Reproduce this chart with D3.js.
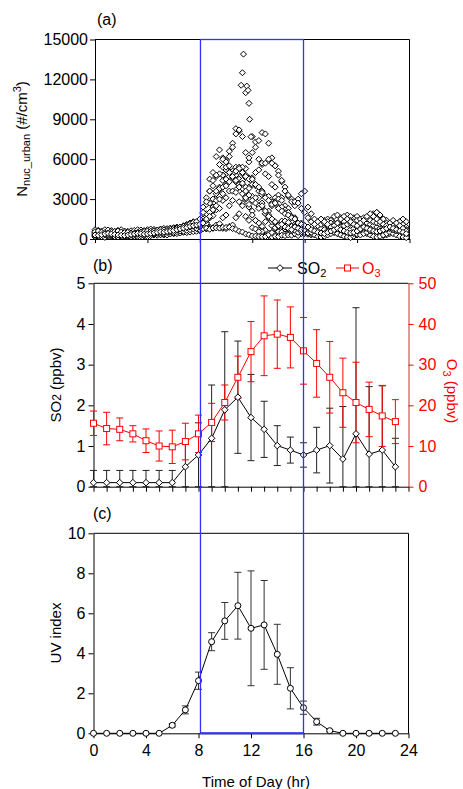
<!DOCTYPE html>
<html>
<head>
<meta charset="utf-8">
<script src="https://cdn.jsdelivr.net/npm/d3@7"></script>
<style>
  body { margin: 0; background: #fff; }
  text { font-family: 'Liberation Sans', Arial, sans-serif; }
</style>
</head>
<body>
<svg id="chart" width="463" height="789"></svg>
<script>
// ---------- data ----------
// hourly means and standard deviations
const hours = d3.range(24);
const so2 = [0.1,0.1,0.1,0.1,0.1,0.1,0.1,0.49,0.78,1.19,1.89,2.2,1.7,1.41,1.01,0.9,0.78,0.9,1.01,0.68,1.3,0.8,0.9,0.49];
const so2Sd = [0.3,0.3,0.3,0.3,0.3,0.3,0.3,0.55,0.79,1.31,1.92,1.38,1.06,0.69,0.49,0.32,0.3,0.56,0.92,1.29,3.1,1.66,1.58,0.7];
const o3 = [15.6,14.3,14.1,13.0,11.3,10.0,9.8,11.1,13.0,15.8,20.7,26.9,33.2,37.1,37.5,36.7,33.4,30.3,26.9,23.1,20.7,19.0,17.4,16.0];
const o3Sd = [3.0,4.0,2.8,2.0,2.9,3.7,4.1,4.5,4.6,4.7,4.3,5.2,7.4,9.8,8.4,7.5,8.2,8.3,8.8,8.5,9.9,6.7,7.5,5.4];
const uv = [0,0,0,0,0,0,0.4,1.17,2.63,4.58,5.62,6.38,5.25,5.42,3.95,2.25,1.28,0.58,0.13,0,0,0,0,0];
const uvSd = [0,0,0,0,0,0,0.08,0.2,0.43,0.45,0.92,1.67,2.87,2.22,1.5,1.03,0.33,0.17,0.05,0,0,0,0,0];

// nucleation-mode number concentration, 15-min values per day (#/cm3)
const nucDay1 = [450,500,380,420,550,480,400,360,420,380,300,350,400,320,280,350,420,380,450,500,420,480,550,600,650,580,700,750,800,900,1000,1100,
  1300,2400,3100,4500,5000,6200,6700,6100,5900,5100,5000,4300,4100,3400,3100,2400,2100,1400,1200,700,650,450,500,380,450,350,380,420,350,450,420,520,
  500,550,600,700,800,900,1000,900,800,700,650,700,800,900,1000,1100,1200,1100,1000,900,800,700,800,900,1000,900,800,700,600,500,450,400];
const nucDay2 = [300,350,420,380,300,250,320,280,250,300,350,280,220,260,300,330,280,350,400,380,420,500,450,520,600,550,620,700,680,750,820,850,
  900,1100,1000,1600,2100,3100,3700,4800,5200,6600,7200,8300,8100,7700,6500,5800,4600,4100,3100,2700,1900,1600,1000,850,550,520,420,430,350,380,350,420,
  450,500,600,800,1000,1200,1400,1500,1400,1200,1000,900,1000,1200,1400,1600,1700,1500,1300,1100,900,800,900,1100,1300,1200,1000,900,800,700,600,550];
const nucDay3 = [600,650,550,500,580,620,500,450,520,480,450,500,550,600,520,480,500,550,620,650,600,680,720,700,750,800,780,850,900,950,1000,980,
  1000,1200,1250,1900,2400,3400,3900,4800,5200,6200,6900,7900,8200,12500,11000,10200,7700,6900,6000,5600,4900,4700,4100,3900,3300,3100,2500,2300,1700,1500,1000,950,
  800,700,600,500,450,400,500,600,800,1000,1200,1400,1600,1800,1700,1500,1300,1100,1300,1500,1700,1900,2000,1800,1500,1200,1000,800,1000,1200,1000,800];
const nucDay4 = [200,250,300,280,220,180,250,300,260,200,180,220,250,280,300,250,220,280,300,350,320,300,380,420,400,450,500,550,520,600,650,680,
  700,800,750,900,850,1050,1150,1600,1800,2500,2900,3700,4100,4900,5300,6100,6500,7300,7400,8000,7900,7200,6100,5500,5100,4300,3900,3200,3000,2500,3000,2300,
  2000,1600,1300,1100,900,800,700,600,500,600,800,1000,1300,1500,1400,1200,1000,800,700,600,700,900,1100,1300,1500,1400,1200,1000,1200,1300,1100,900];
const nucDay5 = [500,450,400,480,520,450,380,420,480,550,500,450,420,480,520,600,550,500,580,620,700,650,720,800,750,850,900,1000,1100,1200,1300,1100,
  1100,1900,2600,3600,4000,4700,4900,5400,5400,5500,5000,4800,4100,3800,3000,2600,1800,1400,700,550,250,250,150,200,180,280,250,300,280,380,250,420,
  400,350,300,350,400,500,600,700,600,500,400,300,250,300,400,500,600,700,800,700,600,500,400,300,250,300,400,500,600,700,500,300];
const nucDay6 = [350,300,280,320,380,420,350,300,280,320,380,400,350,300,380,420,450,400,380,450,500,480,520,550,600,580,620,650,700,680,750,780,
  800,900,780,800,800,850,820,800,780,950,1050,1600,1900,2700,3100,3900,4300,5000,5200,5700,5700,6000,5700,5500,4800,4400,3600,3300,2800,2800,2700,3400,
  3600,2400,1900,1500,1200,1000,900,1100,1400,1700,1800,1600,1300,1100,900,700,800,1000,1200,1400,1600,1800,2000,1800,1500,1200,1000,900,1100,1300,1500,1300];
const nucDay7 = [150,200,180,120,200,250,180,150,200,180,220,150,180,200,250,220,180,250,300,280,320,350,300,380,420,400,450,500,480,520,550,580,
  600,950,1150,1600,1750,2200,2300,2900,3100,3600,3600,3500,2800,2500,1700,1400,850,750,550,950,1300,2100,2500,3100,3000,2900,2200,1900,1300,1100,750,750,
  600,500,400,300,200,150,200,300,400,500,400,300,200,150,100,200,300,400,500,400,300,200,150,200,300,400,500,400,300,200,150,100];
const nucDay8 = [700,650,600,700,680,620,580,650,700,600,580,620,650,700,680,640,700,750,720,680,750,800,780,820,850,900,880,950,1000,1050,900,800,
  700,780,820,730,820,830,820,880,870,880,780,720,580,520,380,320,230,220,180,170,180,320,480,850,1050,1350,1350,1250,950,950,750,720,
  650,600,550,600,700,800,900,1000,1100,1000,900,800,700,600,500,400,350,300,400,500,600,700,800,900,1000,900,800,700,600,700,800,700];
const nucDay9 = [250,300,350,300,280,320,350,300,330,360,300,280,320,350,380,330,350,400,380,420,450,420,480,520,500,550,600,580,650,700,750,800,
  900,1500,1900,2700,3000,3600,3800,4400,4500,5000,5100,5100,4500,4400,3900,3800,3200,3100,2500,2400,1900,1800,1300,1250,950,950,750,750,600,650,500,550,
  500,450,500,600,700,800,700,600,700,800,900,1000,900,800,700,800,900,1000,1100,1200,1100,1000,900,800,700,800,900,1000,900,800,700,600];
const nucDay10 = [400,450,500,450,400,350,400,450,500,450,400,380,420,460,500,450,480,520,560,520,580,620,600,650,700,680,750,800,850,900,950,1000,
  1000,1300,1400,2000,2200,2900,3200,3900,4100,4700,4900,5400,5400,5400,4800,4600,4100,4000,3600,3600,3200,3200,2800,2800,2400,2400,2000,2000,1600,1600,1200,1200,
  1000,900,800,900,1000,1100,1200,1300,1200,1100,1000,900,1000,1100,1200,1300,1400,1500,1600,1500,1400,1300,1200,1100,1000,900,800,700,800,900,800,700];
const nucDay11 = [550,600,520,480,450,500,560,600,520,480,500,450,420,480,520,560,600,580,620,650,700,680,650,720,780,820,900,950,1000,1150,1250,1300,
  1500,2000,2800,3600,4400,4800,5600,6000,5800,5000,4600,4400,3900,4200,3600,3300,2900,2700,2300,2500,2100,1700,1500,1300,1000,1100,900,800,700,900,800,700,
  700,800,900,1100,1300,1500,1300,1100,900,1000,1200,1500,1700,1500,1300,1100,1000,1200,1400,1700,1900,1700,1500,1300,1100,1000,1200,1400,1200,1000,800,600];
const nucDay12 = [300,280,320,380,420,380,340,300,280,260,300,340,380,420,400,360,380,420,460,500,540,520,560,600,640,700,760,820,880,950,1000,1050,
  1100,1200,1500,1700,2200,2500,3000,3400,4000,4300,4700,5100,5300,5000,4700,4500,4500,4100,3900,3500,3100,2900,2600,2700,2300,2100,1900,1800,1600,1500,1200,1100,
  1000,900,700,600,500,450,400,500,600,700,800,700,600,500,450,500,600,750,900,800,700,600,550,600,700,800,900,800,700,600,500,400];
// short burst of very high concentrations around noon: [hour, #/cm3]
const nucPeak = [[11.33,13900],[11.15,11560],[11.58,11500],[11.68,11180],[11.8,9000],[11.9,7690]];

const nucDays = [nucDay1,nucDay2,nucDay3,nucDay4,nucDay5,nucDay6,nucDay7,nucDay8,nucDay9,nucDay10,nucDay11,nucDay12];
const stepHours = 0.25;

// photochemically active window highlighted across panels (hours)
const windowHours = [8.15, 16];

const hourTicks = [0,4,8,12,16,20,24];
const nucTicks = [0,3000,6000,9000,12000,15000];
const so2Ticks = [0,1,2,3,4,5];
const o3Ticks = [0,10,20,30,40,50];
const uvTicks = [0,2,4,6,8,10];

// ---------- layout ----------
const svg = d3.select('#chart');
const FS = 15;      // titles
const TFS = 16;     // tick labels
const red = '#ff0000';
const blue = '#3030ff';
const fmt = d3.format('d');

const xA = d3.scaleLinear().domain([0,24]).range([95,409.5]);
const yA = d3.scaleLinear().domain([0,15000]).range([239,39.5]);
const x = d3.scaleLinear().domain([0,24]).range([93.5,408.5]);
const yB = d3.scaleLinear().domain([0,5]).range([486.7,283.3]);
const yO = d3.scaleLinear().domain([0,50]).range([486.7,283.3]);
const yC = d3.scaleLinear().domain([0,10]).range([733.3,533.3]);

function styleAxis(g, color) {
  g.selectAll('path.domain').attr('stroke', color || '#000').attr('stroke-width', 1);
  g.selectAll('.tick line').attr('stroke', color || '#000').attr('stroke-width', 1);
  g.selectAll('.tick text').attr('font-size', TFS).attr('fill', color || '#000')
    .attr('font-family', "'Liberation Sans', Arial, sans-serif");
}

const diamond = r => `M0,${-r}L${r},0L0,${r}L${-r},0Z`;

// ---------- panel (a) ----------
const gA = svg.append('g');
gA.append('g').attr('transform', `translate(0,${yA(0)})`)
  .call(d3.axisBottom(xA).tickValues(hourTicks).tickFormat('').tickSize(4).tickSizeOuter(0))
  .call(g => styleAxis(g));
gA.append('g').attr('transform', `translate(${xA(0)},0)`)
  .call(d3.axisLeft(yA).tickValues(nucTicks).tickFormat(fmt).tickSize(5).tickPadding(2).tickSizeOuter(0))
  .call(g => styleAxis(g));
gA.append('path').attr('fill', 'none').attr('stroke', '#000')
  .attr('d', `M${xA(0)},${yA(15000)}H${xA(24)}V${yA(0)}`);

const nucPoints = [];
nucDays.forEach(day => day.forEach((v, i) => nucPoints.push([i * stepHours, v])));
nucPeak.forEach(p => nucPoints.push(p));
gA.append('g').selectAll('path').data(nucPoints).join('path')
  .attr('d', diamond(3))
  .attr('transform', d => `translate(${xA(d[0])},${yA(d[1])})`)
  .attr('fill', '#fff').attr('stroke', '#000').attr('stroke-width', 1);

gA.append('text').attr('x', 97).attr('y', 25).attr('font-size', TFS).text('(a)');
const tA = gA.append('text').attr('transform', 'translate(27,139) rotate(-90)')
  .attr('text-anchor', 'middle').attr('font-size', FS);
tA.append('tspan').text('N');
tA.append('tspan').attr('font-size', 11).attr('dy', 3).text('nuc_urban');
tA.append('tspan').attr('dy', -3).text(' (#/cm');
tA.append('tspan').attr('font-size', 11).attr('dy', -6).text('3');
tA.append('tspan').attr('dy', 6).text(')');

// ---------- panel (b) ----------
const gB = svg.append('g');
gB.append('g').attr('transform', `translate(0,${yB(0)})`)
  .call(d3.axisBottom(x).tickValues(d3.range(25)).tickFormat('').tickSize(5).tickSizeOuter(0))
  .call(g => styleAxis(g));
gB.append('g').attr('transform', `translate(${x(0)},0)`)
  .call(d3.axisLeft(yB).tickValues(so2Ticks).tickFormat(fmt).tickSize(5).tickPadding(3).tickSizeOuter(0))
  .call(g => styleAxis(g));
gB.append('line').attr('x1', x(0)).attr('x2', x(24)).attr('y1', yB(5)).attr('y2', yB(5)).attr('stroke', '#000');
gB.append('g').attr('transform', `translate(${x(24)},0)`)
  .call(d3.axisRight(yO).tickValues(o3Ticks).tickFormat(fmt).tickSize(5).tickPadding(5).tickSizeOuter(0))
  .call(g => styleAxis(g, red))
  .call(g => g.select('path.domain').attr('stroke', '#c83232'));

function errorBars(g, xs, vals, sds, yScale, color) {
  const cap = 3.5;
  const rows = xs.map((h, i) => ({h, lo: Math.max(vals[i] - sds[i], 0), hi: vals[i] + sds[i], sd: sds[i]}))
    .filter(d => d.sd > 0);
  const eb = g.append('g').attr('stroke', color).attr('stroke-width', 1);
  rows.forEach(d => {
    const cx = x(d.h);
    eb.append('line').attr('x1', cx).attr('x2', cx).attr('y1', yScale(d.lo)).attr('y2', yScale(d.hi));
    eb.append('line').attr('x1', cx - cap).attr('x2', cx + cap).attr('y1', yScale(d.hi)).attr('y2', yScale(d.hi));
    eb.append('line').attr('x1', cx - cap).attr('x2', cx + cap).attr('y1', yScale(d.lo)).attr('y2', yScale(d.lo));
  });
}

errorBars(gB, hours, so2, so2Sd, yB, '#222');
errorBars(gB, hours, o3, o3Sd, yO, red);

gB.append('path').datum(o3).attr('fill', 'none').attr('stroke', red).attr('stroke-width', 1)
  .attr('d', d3.line().x((d, i) => x(hours[i])).y(d => yO(d)));
gB.append('g').selectAll('rect').data(o3).join('rect')
  .attr('x', (d, i) => x(hours[i]) - 3).attr('y', d => yO(d) - 3)
  .attr('width', 6).attr('height', 6)
  .attr('fill', '#fff').attr('stroke', red).attr('stroke-width', 1);

gB.append('path').datum(so2).attr('fill', 'none').attr('stroke', '#000').attr('stroke-width', 1)
  .attr('d', d3.line().x((d, i) => x(hours[i])).y(d => yB(d)));
gB.append('g').selectAll('path.m').data(so2).join('path')
  .attr('d', diamond(3.3))
  .attr('transform', (d, i) => `translate(${x(hours[i])},${yB(d)})`)
  .attr('fill', '#fff').attr('stroke', '#000').attr('stroke-width', 1);

gB.append('text').attr('x', 93).attr('y', 271).attr('font-size', TFS).text('(b)');
const tB = gB.append('text').attr('transform', 'translate(61,385) rotate(-90)')
  .attr('text-anchor', 'middle').attr('font-size', FS);
tB.append('tspan').text('SO');
tB.append('tspan').attr('font-size', 12).text('2');
tB.append('tspan').text(' (ppbv)');
const tO = gB.append('text').attr('transform', 'translate(447,391) rotate(90)')
  .attr('text-anchor', 'middle').attr('font-size', FS).attr('fill', red);
tO.append('tspan').text('O');
tO.append('tspan').attr('font-size', 11).attr('dy', 4).text('3');
tO.append('tspan').attr('dy', -4).text(' (ppbv)');

// legend
const lg = gB.append('g').attr('transform', 'translate(0,268)');
lg.append('line').attr('x1', 268).attr('x2', 292).attr('stroke', '#000');
lg.append('path').attr('d', diamond(3.3)).attr('transform', 'translate(280,0)')
  .attr('fill', '#fff').attr('stroke', '#000');
const l1 = lg.append('text').attr('x', 297).attr('y', 5.5).attr('font-size', TFS);
l1.append('tspan').text('SO');
l1.append('tspan').attr('font-size', 11).attr('dy', 3).text('2');
lg.append('line').attr('x1', 336).attr('x2', 359).attr('stroke', red);
lg.append('rect').attr('x', 344.5).attr('y', -3).attr('width', 6).attr('height', 6)
  .attr('fill', '#fff').attr('stroke', red);
const l2 = lg.append('text').attr('x', 362).attr('y', 5.5).attr('font-size', TFS).attr('fill', red);
l2.append('tspan').text('O');
l2.append('tspan').attr('font-size', 11).attr('dy', 3).text('3');

// ---------- panel (c) ----------
const gC = svg.append('g');
gC.append('g').attr('transform', `translate(0,${yC(0)})`)
  .call(d3.axisBottom(x).tickValues(hourTicks).tickSize(5).tickPadding(6).tickSizeOuter(0))
  .call(g => styleAxis(g));
gC.append('g').attr('transform', `translate(${x(0)},0)`)
  .call(d3.axisLeft(yC).tickValues(uvTicks).tickFormat(fmt).tickSize(5).tickPadding(3).tickSizeOuter(0))
  .call(g => styleAxis(g));
gC.append('path').attr('fill', 'none').attr('stroke', '#000')
  .attr('d', `M${x(0)},${yC(10)}H${x(24)}V${yC(0)}`);

errorBars(gC, hours, uv, uvSd, yC, '#333');
gC.append('path').datum(uv).attr('fill', 'none').attr('stroke', '#000').attr('stroke-width', 1)
  .attr('d', d3.line().x((d, i) => x(hours[i])).y(d => yC(d)));
gC.append('g').selectAll('circle').data(uv).join('circle')
  .attr('cx', (d, i) => x(hours[i])).attr('cy', d => yC(d)).attr('r', 3)
  .attr('fill', '#fff').attr('stroke', '#000').attr('stroke-width', 1);

gC.append('text').attr('x', 93).attr('y', 519).attr('font-size', TFS).text('(c)');
gC.append('text').attr('transform', 'translate(61,633) rotate(-90)')
  .attr('text-anchor', 'middle').attr('font-size', FS).text('UV index');
gC.append('text').attr('x', 256).attr('y', 787).attr('text-anchor', 'middle')
  .attr('font-size', FS).text('Time of Day (hr)');

// ---------- highlighted window across all panels ----------
const bx0 = x(windowHours[0]), bx1 = x(windowHours[1]);
svg.append('rect').attr('x', bx0).attr('y', yA(15000))
  .attr('width', bx1 - bx0).attr('height', yC(0) - yA(15000))
  .attr('fill', 'none').attr('stroke', blue).attr('stroke-width', 1.3);
svg.append('line').attr('x1', bx0).attr('x2', bx1).attr('y1', yC(0)).attr('y2', yC(0))
  .attr('stroke', blue).attr('stroke-width', 2);
</script>
</body>
</html>
